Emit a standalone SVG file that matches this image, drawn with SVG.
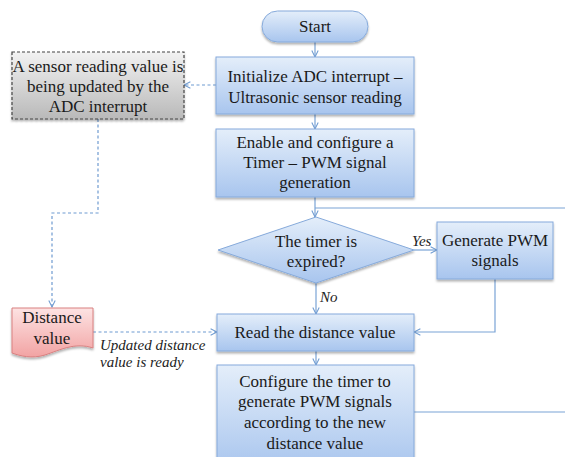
<svg xmlns="http://www.w3.org/2000/svg" width="565" height="457" viewBox="0 0 565 457">
<defs>
<linearGradient id="blue" x1="0" y1="0" x2="0" y2="1"><stop offset="0" stop-color="#e4eefa"/><stop offset="1" stop-color="#a8c5ee"/></linearGradient>
<linearGradient id="gray" x1="0" y1="0" x2="0" y2="1"><stop offset="0" stop-color="#f2f2f2"/><stop offset="1" stop-color="#b9b9b9"/></linearGradient>
<linearGradient id="pink" x1="0" y1="0" x2="0" y2="1"><stop offset="0" stop-color="#fde3e3"/><stop offset="1" stop-color="#f2a3a3"/></linearGradient>
<filter id="sh" x="-10%" y="-10%" width="120%" height="130%"><feDropShadow dx="0" dy="2" stdDeviation="1.2" flood-color="#000" flood-opacity="0.3"/></filter>
<marker id="arr" viewBox="0 0 10 10" refX="9" refY="5" markerWidth="8" markerHeight="8" orient="auto" markerUnits="userSpaceOnUse"><polyline points="1,1 9,5 1,9" fill="none" stroke="#6f9bd1" stroke-width="1.3"/></marker>
</defs>
<rect width="565" height="457" fill="#fff"/>
<g id="connectors" fill="none">
<g stroke="#7aa3d6" stroke-width="1.2">
<line x1="315" y1="42" x2="315" y2="57" marker-end="url(#arr)"/>
<line x1="315" y1="114" x2="315" y2="129" marker-end="url(#arr)"/>
<line x1="315" y1="197" x2="315" y2="217" marker-end="url(#arr)"/>
<line x1="565" y1="208" x2="315" y2="208"/>
<line x1="414" y1="250" x2="437" y2="250" marker-end="url(#arr)"/>
<line x1="316" y1="283" x2="316" y2="314" marker-end="url(#arr)"/>
<polyline points="495,279 495,332 414,332" marker-end="url(#arr)"/>
<line x1="316" y1="351" x2="316" y2="365" marker-end="url(#arr)"/>
<line x1="414" y1="412" x2="565" y2="412"/>
</g>
<g stroke="#6f9bd1" stroke-width="1.2" stroke-dasharray="3,2.5">
<line x1="216" y1="85" x2="184" y2="85" marker-end="url(#arr)"/>
<polyline points="98,119 98,213 52,213 52,307" marker-end="url(#arr)"/>
<line x1="93" y1="332" x2="217" y2="332" marker-end="url(#arr)"/>
</g>
<g font-size="15" font-style="italic" fill="#222" font-family="Times New Roman, Liberation Serif, serif">
<text x="412" y="246">Yes</text>
<text x="320" y="302">No</text>
<text x="100" y="350">Updated distance</text>
<text x="100" y="367">value is ready</text>
</g>
</g>
<g id="start" font-size="17" fill="#1a1a1a" text-anchor="middle" font-family="Times New Roman, Liberation Serif, serif">
<rect x="262" y="11" width="106" height="31" rx="15.5" fill="url(#blue)" stroke="#86aadb" filter="url(#sh)"/>
<text x="315" y="32">Start</text>
</g>
<g id="init" font-size="17" fill="#1a1a1a" text-anchor="middle" font-family="Times New Roman, Liberation Serif, serif">
<rect x="216" y="57" width="198" height="57" fill="url(#blue)" stroke="#86aadb" filter="url(#sh)"/>
<text x="315" y="82">Initialize ADC interrupt &#8211;</text>
<text x="315" y="103">Ultrasonic sensor reading</text>
</g>
<g id="enable" font-size="17" fill="#1a1a1a" text-anchor="middle" font-family="Times New Roman, Liberation Serif, serif">
<rect x="216" y="129" width="198" height="68" fill="url(#blue)" stroke="#86aadb" filter="url(#sh)"/>
<text x="315" y="148">Enable and configure a</text>
<text x="315" y="168">Timer &#8211; PWM signal</text>
<text x="315" y="188">generation</text>
</g>
<g id="decision" font-size="17" fill="#1a1a1a" text-anchor="middle" font-family="Times New Roman, Liberation Serif, serif">
<polygon points="316,217 414,250 316,283 218,250" fill="url(#blue)" stroke="#86aadb" filter="url(#sh)"/>
<text x="316" y="247">The timer is</text>
<text x="316" y="267">expired?</text>
</g>
<g id="generate" font-size="17" fill="#1a1a1a" text-anchor="middle" font-family="Times New Roman, Liberation Serif, serif">
<rect x="437" y="222" width="116" height="57" fill="url(#blue)" stroke="#86aadb" filter="url(#sh)"/>
<text x="495" y="246">Generate PWM</text>
<text x="495" y="266">signals</text>
</g>
<g id="read" font-size="17" fill="#1a1a1a" text-anchor="middle" font-family="Times New Roman, Liberation Serif, serif">
<rect x="217" y="314" width="197" height="37" fill="url(#blue)" stroke="#86aadb" filter="url(#sh)"/>
<text x="315" y="338">Read the distance value</text>
</g>
<g id="configure" font-size="17" fill="#1a1a1a" text-anchor="middle" font-family="Times New Roman, Liberation Serif, serif">
<rect x="217" y="365" width="197" height="105" fill="url(#blue)" stroke="#86aadb" filter="url(#sh)"/>
<text x="315" y="387">Configure the timer to</text>
<text x="315" y="407">generate PWM signals</text>
<text x="315" y="428">according to the new</text>
<text x="315" y="449">distance value</text>
</g>
<g id="sensor" font-size="17" fill="#1a1a1a" text-anchor="middle" font-family="Times New Roman, Liberation Serif, serif">
<rect x="12" y="52" width="172" height="67" fill="url(#gray)" stroke="#444" stroke-width="1.2" stroke-dasharray="3,2" filter="url(#sh)"/>
<text x="98" y="72">A sensor reading value is</text>
<text x="98" y="92">being updated by the</text>
<text x="98" y="112">ADC interrupt</text>
</g>
<g id="distance" font-size="17" fill="#1a1a1a" text-anchor="middle" font-family="Times New Roman, Liberation Serif, serif">
<path d="M12,308 H93 V348 C75,342 60,350 45,355 C32,359 20,356 12,353 Z" fill="url(#pink)" stroke="#d98080" stroke-width="1" filter="url(#sh)"/>
<text x="52" y="323">Distance</text>
<text x="52" y="344">value</text>
</g>
</svg>
